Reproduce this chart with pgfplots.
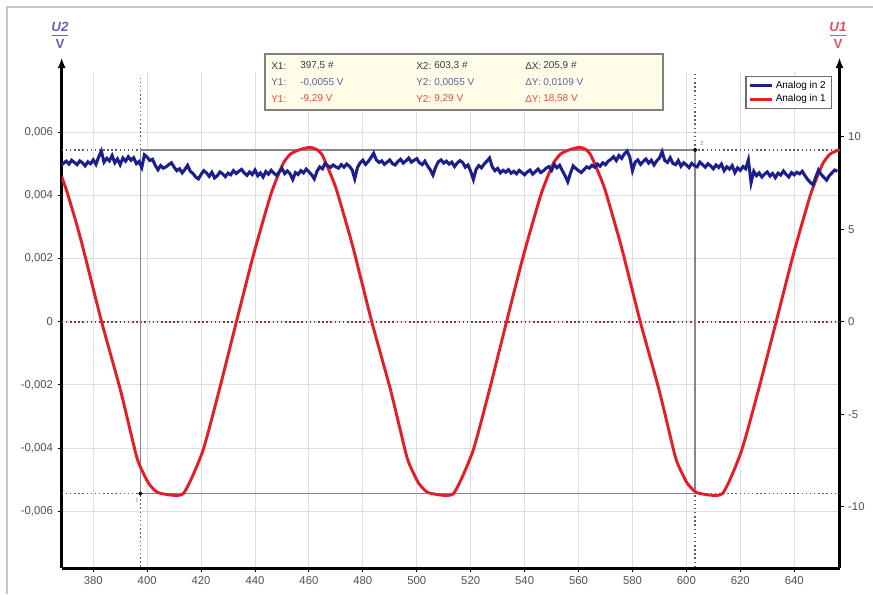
\documentclass[border=0pt]{standalone}
\usepackage{fontspec}
\setmainfont{Liberation Sans}
\usepackage{pgfplots}
\usepackage{pgfplotstable}
\pgfplotsset{compat=1.18}
\usetikzlibrary{arrows.meta}
\definecolor{bluesig}{RGB}{28,30,140}
\definecolor{redsig}{RGB}{228,30,38}
\definecolor{gridc}{RGB}{222,222,222}
\definecolor{tickc}{RGB}{80,80,80}
\definecolor{curc}{RGB}{135,135,135}
\definecolor{dotc}{RGB}{95,95,95}
\definecolor{zeroc}{RGB}{150,50,60}
\definecolor{u2c}{RGB}{100,100,175}
\definecolor{u1c}{RGB}{225,85,85}
\definecolor{boxfill}{RGB}{255,253,232}
\definecolor{row1c}{RGB}{60,60,60}
\definecolor{row2c}{RGB}{95,95,165}
\definecolor{row3c}{RGB}{228,75,75}

\pgfplotstableread{
x y
368 0.00494
369 0.00502
370 0.00508
371 0.00499
372 0.00511
373 0.00504
374 0.00497
375 0.00509
376 0.00503
377 0.00493
378 0.00506
379 0.00500
380 0.00512
381 0.00498
382 0.00521
383 0.00540
384 0.00505
385 0.00517
386 0.00509
387 0.00526
388 0.00503
389 0.00515
390 0.00497
391 0.00518
392 0.00508
393 0.00522
394 0.00511
395 0.00519
396 0.00500
397 0.00507
398 0.00488
399 0.00528
400 0.00521
401 0.00510
402 0.00514
403 0.00495
404 0.00481
405 0.00494
406 0.00486
407 0.00490
408 0.00497
409 0.00503
410 0.00489
411 0.00478
412 0.00484
413 0.00471
414 0.00482
415 0.00495
416 0.00476
417 0.00469
418 0.00458
419 0.00452
420 0.00466
421 0.00478
422 0.00471
423 0.00460
424 0.00473
425 0.00455
426 0.00462
427 0.00474
428 0.00468
429 0.00459
430 0.00470
431 0.00465
432 0.00478
433 0.00469
434 0.00476
435 0.00482
436 0.00471
437 0.00463
438 0.00474
439 0.00466
440 0.00480
441 0.00462
442 0.00471
443 0.00458
444 0.00475
445 0.00467
446 0.00479
447 0.00470
448 0.00463
449 0.00474
450 0.00485
451 0.00469
452 0.00477
453 0.00468
454 0.00450
455 0.00472
456 0.00466
457 0.00478
458 0.00471
459 0.00483
460 0.00474
461 0.00465
462 0.00452
463 0.00476
464 0.00490
465 0.00484
466 0.00501
467 0.00493
468 0.00488
469 0.00496
470 0.00490
471 0.00486
472 0.00497
473 0.00489
474 0.00499
475 0.00492
476 0.00481
477 0.00452
478 0.00488
479 0.00503
480 0.00511
481 0.00498
482 0.00507
483 0.00519
484 0.00533
485 0.00512
486 0.00504
487 0.00509
488 0.00498
489 0.00505
490 0.00512
491 0.00500
492 0.00496
493 0.00507
494 0.00514
495 0.00502
496 0.00509
497 0.00518
498 0.00505
499 0.00511
500 0.00516
501 0.00503
502 0.00497
503 0.00508
504 0.00493
505 0.00481
506 0.00464
507 0.00489
508 0.00506
509 0.00512
510 0.00502
511 0.00508
512 0.00499
513 0.00505
514 0.00491
515 0.00502
516 0.00510
517 0.00504
518 0.00489
519 0.00496
520 0.00476
521 0.00450
522 0.00482
523 0.00494
524 0.00487
525 0.00499
526 0.00508
527 0.00518
528 0.00490
529 0.00478
530 0.00485
531 0.00471
532 0.00479
533 0.00473
534 0.00481
535 0.00470
536 0.00476
537 0.00468
538 0.00479
539 0.00472
540 0.00465
541 0.00474
542 0.00480
543 0.00467
544 0.00475
545 0.00483
546 0.00472
547 0.00478
548 0.00486
549 0.00491
550 0.00479
551 0.00498
552 0.00487
553 0.00495
554 0.00478
555 0.00462
556 0.00443
557 0.00470
558 0.00493
559 0.00485
560 0.00478
561 0.00472
562 0.00481
563 0.00490
564 0.00486
565 0.00495
566 0.00489
567 0.00499
568 0.00492
569 0.00503
570 0.00497
571 0.00508
572 0.00514
573 0.00522
574 0.00510
575 0.00526
576 0.00517
577 0.00531
578 0.00540
579 0.00521
580 0.00478
581 0.00505
582 0.00512
583 0.00498
584 0.00507
585 0.00515
586 0.00502
587 0.00511
588 0.00496
589 0.00509
590 0.00518
591 0.00538
592 0.00510
593 0.00504
594 0.00519
595 0.00501
596 0.00497
597 0.00510
598 0.00492
599 0.00503
600 0.00496
601 0.00488
602 0.00501
603 0.00494
604 0.00490
605 0.00505
606 0.00497
607 0.00489
608 0.00500
609 0.00493
610 0.00484
611 0.00496
612 0.00488
613 0.00499
614 0.00478
615 0.00490
616 0.00483
617 0.00494
618 0.00472
619 0.00487
620 0.00479
621 0.00491
622 0.00484
623 0.00512
624 0.00440
625 0.00476
626 0.00462
627 0.00471
628 0.00458
629 0.00467
630 0.00474
631 0.00461
632 0.00469
633 0.00456
634 0.00470
635 0.00464
636 0.00477
637 0.00466
638 0.00458
639 0.00472
640 0.00465
641 0.00473
642 0.00468
643 0.00476
644 0.00462
645 0.00450
646 0.00441
647 0.00433
648 0.00458
649 0.00480
650 0.00466
651 0.00457
652 0.00448
653 0.00462
654 0.00471
655 0.00480
656 0.00476
}\bluetable

\pgfplotstableread{
x y
368.3 7.84
370.1 7.10
373.2 5.60
376.1 4.05
383.1 0.00
390.1 -3.70
396.1 -7.30
398.8 -8.25
400.6 -8.75
403.1 -9.15
405.3 -9.29
413.4 -9.29
420.6 -7.00
426.9 -3.60
433.1 0.00
439.4 3.60
445.6 6.76
448.5 7.90
450.6 8.60
453.0 9.05
455.6 9.25
458.5 9.38
460.6 9.43
462.8 9.32
464.8 9.05
467.4 8.20
470.3 7.10
476.3 4.05
483.3 0.00
490.3 -3.70
496.3 -7.30
499.0 -8.25
500.8 -8.75
503.3 -9.15
505.5 -9.29
513.6 -9.29
520.8 -7.00
527.1 -3.60
533.3 0.00
539.6 3.60
545.8 6.76
548.7 7.90
550.8 8.60
553.2 9.05
555.8 9.25
558.5 9.38
560.6 9.43
562.6 9.32
564.4 9.05
567.0 8.20
569.9 7.10
575.9 4.05
582.9 0.00
589.9 -3.70
595.9 -7.30
598.6 -8.25
600.4 -8.75
602.9 -9.15
605.1 -9.29
613.4 -9.29
620.4 -7.00
626.9 -3.60
633.3 0.00
639.6 3.60
645.8 6.76
648.7 7.90
650.8 8.60
653.2 9.05
655.8 9.25
656.8 9.30
}\redtable

\pgfplotsset{
  common/.style={
    scale only axis, width=583.35pt, height=372.2pt,
    at={(46.275pt,19.275pt)}, anchor=south west,
    xmin=368.3, xmax=656.8,
  },
  leftrange/.style={ymin=-0.007804, ymax=0.007902},
  rightrange/.style={ymin=-13.33, ymax=13.5},
}
\begin{document}
\begin{tikzpicture}
\path[use as bounding box] (0,0) rectangle (654.75pt,445.5pt);

% left axis, grid
\begin{axis}[common, leftrange,
  axis x line*=bottom, axis y line*=left,
  xtick={380,400,...,640},
  ytick={-0.006,-0.004,-0.002,0,0.002,0.004,0.006},
  scaled y ticks=false,
  grid=major, grid style={gridc, line width=0.75pt},
  tick align=outside, major tick length=3pt,
  every tick/.style={black, line width=0.7pt},
  x axis line style={-, black, line width=2pt},
  y axis line style={black, line width=2pt, -{Latex[length=8pt,width=6pt]}, shorten >=-11pt},
  tick label style={font=\fontsize{8.5}{9}\selectfont, text=tickc},
  /pgf/number format/assume math mode=true,
  yticklabel={\pgfmathprintnumber[fixed, precision=3, use comma]{\tick}},
  xticklabel={\pgfmathprintnumber[fixed, 1000 sep={}]{\tick}},
]
\addplot[draw=none, forget plot] coordinates {(400,0)};
\end{axis}

% right axis, red signal, cursors
\begin{axis}[common, rightrange,
  axis x line=none, axis y line*=right,
  ytick={-10,-5,0,5,10},
  tick align=outside, major tick length=3pt,
  every tick/.style={black, line width=0.7pt},
  y axis line style={black, line width=2pt, -{Latex[length=8pt,width=6pt]}, shorten >=-11pt},
  tick label style={font=\fontsize{8.5}{9}\selectfont, text=tickc},
  /pgf/number format/assume math mode=true,
]
\addplot[zeroc, line width=1.3pt, dash pattern=on 1.2pt off 1.9pt, forget plot] coordinates {(368.3,0) (656.8,0)};
\addplot[dotc, line width=1.2pt, dash pattern=on 1.1pt off 2pt, forget plot] coordinates {(397.5,13.2) (397.5,-13.33)};
\addplot[dotc, line width=1.2pt, dash pattern=on 1.1pt off 2pt, forget plot] coordinates {(603.3,13.4) (603.3,-13.33)};
\addplot[dotc, line width=1.2pt, dash pattern=on 1.1pt off 2pt, forget plot] coordinates {(368.3,9.29) (656.8,9.29)};
\addplot[dotc, line width=1.2pt, dash pattern=on 1.1pt off 2pt, forget plot] coordinates {(368.3,-9.29) (656.8,-9.29)};
\addplot[curc, line width=1.2pt, forget plot] coordinates {(397.5,-9.29) (603.3,-9.29) (603.3,9.29) (397.5,9.29) (397.5,-9.29)};
\addplot[redsig, line width=2.2pt, smooth, tension=0.35] table {\redtable};
\addplot[only marks, mark=*, mark size=1.4pt, black, forget plot] coordinates {(397.5,-9.29) (603.3,9.29)};
\end{axis}

% blue signal + legend
\begin{axis}[common, leftrange, hide axis,
  legend style={at={(0.99,0.992)}, anchor=north east, draw={rgb,255:red,110;green,110;blue,110}, line width=0.9pt,
    font=\fontsize{7.5}{8}\selectfont, fill=white, inner xsep=2pt, inner ysep=1.5pt, row sep=-1pt},
  legend cell align=left,
  legend image code/.code={\draw[#1] (0pt,0pt) -- (16pt,0pt);},
]
\addplot[bluesig, line width=2.3pt] table {\bluetable};
\addlegendentry{Analog in 2}
\addlegendimage{redsig, line width=2.2pt}
\addlegendentry{Analog in 1}
\end{axis}

\begin{scope}[x=0.75pt, y=-0.75pt, shift={(0pt,445.5pt)}]
  % outer frame
  \draw[gray!45, line width=1.5pt] (7,594) -- (7,7) -- (873,7);
  % axis titles
  \node[text=u2c, font=\fontsize{10}{10}\selectfont\bfseries\itshape] at (60,27) {U2};
  \draw[u2c, line width=0.6pt] (52,35) -- (68,35);
  \node[text=u2c, font=\fontsize{10}{10}\selectfont\bfseries] at (60,44) {V};
  \node[text=u1c, font=\fontsize{10}{10}\selectfont\bfseries\itshape] at (838,27) {U1};
  \draw[u1c, line width=0.6pt] (830,35) -- (846,35);
  \node[text=u1c, font=\fontsize{10}{10}\selectfont\bfseries] at (838,44) {V};
  % cursor labels
  \node[text=gray, font=\fontsize{4.5}{5}\selectfont, inner sep=0pt] at (137,500) {1};
  \node[text=gray, font=\fontsize{4.5}{5}\selectfont, inner sep=0pt] at (702,143) {2};
  % info box
  \draw[fill=boxfill, draw=gray, line width=1pt] (265,54) rectangle (663,110);
  \begin{scope}[every node/.style={anchor=west, inner sep=0pt, font=\fontsize{7.5}{8}\selectfont}]
    \node[text=row1c] at (271,66) {X1:};
    \node[text=row1c] at (300,66) {397,5 \#};
    \node[text=row1c] at (416,66) {X2:};
    \node[text=row1c] at (434,66) {603,3 \#};
    \node[text=row1c] at (525,66) {ΔX:};
    \node[text=row1c] at (543,66) {205,9 \#};
    \node[text=row2c] at (271,82.5) {Y1:};
    \node[text=row2c] at (300,82.5) {-0,0055 V};
    \node[text=row2c] at (416,82.5) {Y2:};
    \node[text=row2c] at (434,82.5) {0,0055 V};
    \node[text=row2c] at (525,82.5) {ΔY:};
    \node[text=row2c] at (543,82.5) {0,0109 V};
    \node[text=row3c] at (271,99) {Y1:};
    \node[text=row3c] at (300,99) {-9,29 V};
    \node[text=row3c] at (416,99) {Y2:};
    \node[text=row3c] at (434,99) {9,29 V};
    \node[text=row3c] at (525,99) {ΔY:};
    \node[text=row3c] at (543,99) {18,58 V};
  \end{scope}
\end{scope}
\end{tikzpicture}
\end{document}
